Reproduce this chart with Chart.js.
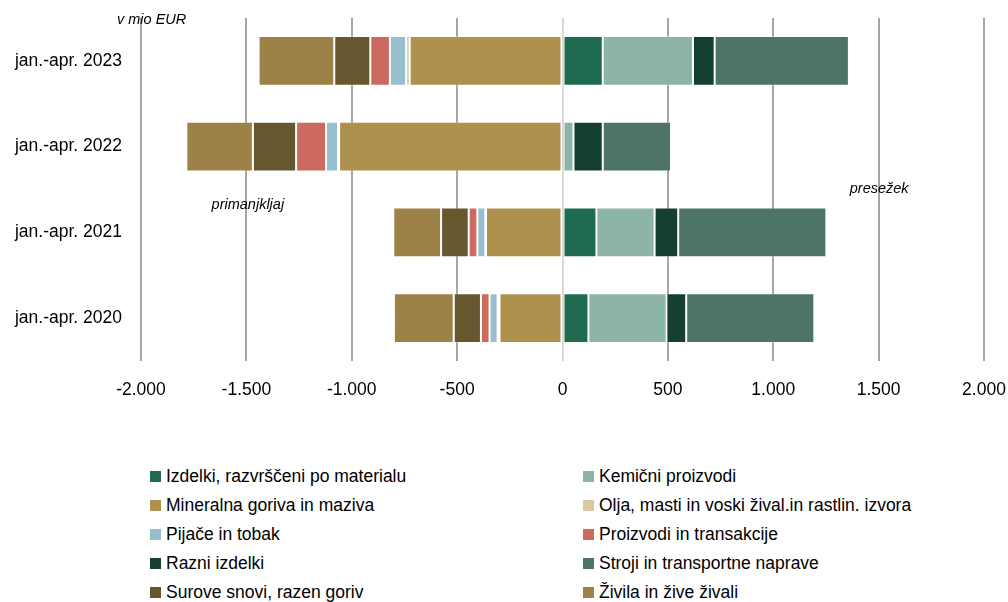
<!DOCTYPE html>
<html>
<head>
<meta charset="utf-8">
<script src="https://cdn.jsdelivr.net/npm/chart.js@4/dist/chart.umd.min.js"></script>
<style>
    html, body { margin: 0; padding: 0; background: #fff; overflow: hidden; }
    #wrap { position: absolute; left: 0; top: 0; width: 1008px; height: 409px; }
    #legend {
        position: absolute; left: 150px; top: 462px;
        display: grid; grid-template-columns: 433px 420px; grid-auto-rows: 29px;
        font-family: 'Liberation Sans', Arial, sans-serif; font-size: 17.5px; color: #000;
    }
    .item { display: flex; align-items: center; white-space: nowrap; }
    .box { width: 11px; height: 11px; margin-right: 5px; flex: none; }
</style>
</head>
<body>
<div id="wrap"><canvas id="chart"></canvas></div>
<div id="legend"></div>
<script>
// trgovinski saldo po skupinah SMTK, v mio EUR
const periods = ['jan.-apr. 2023', 'jan.-apr. 2022', 'jan.-apr. 2021', 'jan.-apr. 2020'];

const izdelki    = [191, 0, 161, 123];
const kemicni    = [428, 52, 276, 371];
const mineralna  = [-725, -1060, -363, -299];
const olja       = [-17, -5, -3, -9];
const pijace     = [-77, -57, -38, -38];
const proizvodi  = [-93, -142, -41, -41];
const razni      = [103, 139, 112, 93];
const stroji     = [637, 324, 703, 608];
const surove     = [-171, -205, -131, -129];
const zivila     = [-359, -316, -227, -284];

const xTicks = [-2000, -1500, -1000, -500, 0, 500, 1000, 1500, 2000];

const series = [
    { label: 'Izdelki, razvrščeni po materialu', data: izdelki, color: '#1F6B50' },
    { label: 'Kemični proizvodi', data: kemicni, color: '#8DB5A5' },
    { label: 'Mineralna goriva in maziva', data: mineralna, color: '#AF914E' },
    { label: 'Olja, masti in voski žival.in rastlin. izvora', data: olja, color: '#D9C9A0' },
    { label: 'Pijače in tobak', data: pijace, color: '#98BFCE' },
    { label: 'Proizvodi in transakcije', data: proizvodi, color: '#CB6A5E' },
    { label: 'Razni izdelki', data: razni, color: '#143F31' },
    { label: 'Stroji in transportne naprave', data: stroji, color: '#4D7465' },
    { label: 'Surove snovi, razen goriv', data: surove, color: '#66572E' },
    { label: 'Živila in žive živali', data: zivila, color: '#9D8247' }
];

const fmt = v => String(v).replace(/\B(?=(\d{3})+(?!\d))/g, '.');

// italic notes on the plot
const notes = {
    id: 'notes',
    afterDraw(chart) {
        const { ctx, scales: { x } } = chart;
        ctx.save();
        ctx.fillStyle = '#000';
        ctx.font = 'italic 14.5px "Liberation Sans", Arial, sans-serif';
        ctx.textBaseline = 'middle';
        ctx.textAlign = 'left';
        ctx.fillText('v mio EUR', 117, 20);
        ctx.fillText('primanjkljaj', x.getPixelForValue(-1665), 205);
        ctx.fillText('presežek', x.getPixelForValue(1363), 189);
        ctx.restore();
    }
};

new Chart(document.getElementById('chart'), {
    type: 'bar',
    data: {
        labels: periods,
        datasets: series.map(s => ({
            label: s.label,
            data: s.data,
            backgroundColor: s.color,
            borderColor: 'rgba(255,255,255,0.35)',
            borderWidth: 1,
            borderSkipped: false,
            categoryPercentage: 1,
            barPercentage: 0.58
        }))
    },
    options: {
        indexAxis: 'y',
        responsive: true,
        maintainAspectRatio: false,
        animation: false,
        layout: { padding: { top: 18, right: 24, left: 0, bottom: 0 } },
        plugins: {
            legend: { display: false },
            tooltip: { enabled: false }
        },
        scales: {
            x: {
                stacked: true,
                min: -2000,
                max: 2000,
                afterBuildTicks: axis => { axis.ticks = xTicks.map(v => ({ value: v })); },
                afterFit: axis => {
                    axis.height = 48;
                    axis.paddingLeft = 0;
                    axis.paddingRight = 0;
                },
                ticks: {
                    color: '#000',
                    padding: 19,
                    font: { family: 'Liberation Sans', size: 17.5 },
                    callback: v => fmt(v),
                    maxRotation: 0
                },
                grid: {
                    color: c => c.tick && c.tick.value === 0 ? '#D9D9D9' : '#A6A6A6',
                    lineWidth: 2,
                    drawTicks: false
                },
                border: { display: false }
            },
            y: {
                stacked: true,
                afterFit: axis => {
                    axis.width = 141;
                    axis.paddingTop = 0;
                    axis.paddingBottom = 0;
                },
                ticks: {
                    color: '#000',
                    padding: 19,
                    font: { family: 'Liberation Sans', size: 17.5 }
                },
                grid: { display: false, drawTicks: false },
                border: { display: false }
            }
        }
    },
    plugins: [notes]
});

const legend = document.getElementById('legend');
series.forEach(s => {
    const item = document.createElement('div');
    item.className = 'item';
    item.innerHTML = '<span class="box" style="background:' + s.color + '"></span><span>' + s.label + '</span>';
    legend.appendChild(item);
});
</script>
</body>
</html>
